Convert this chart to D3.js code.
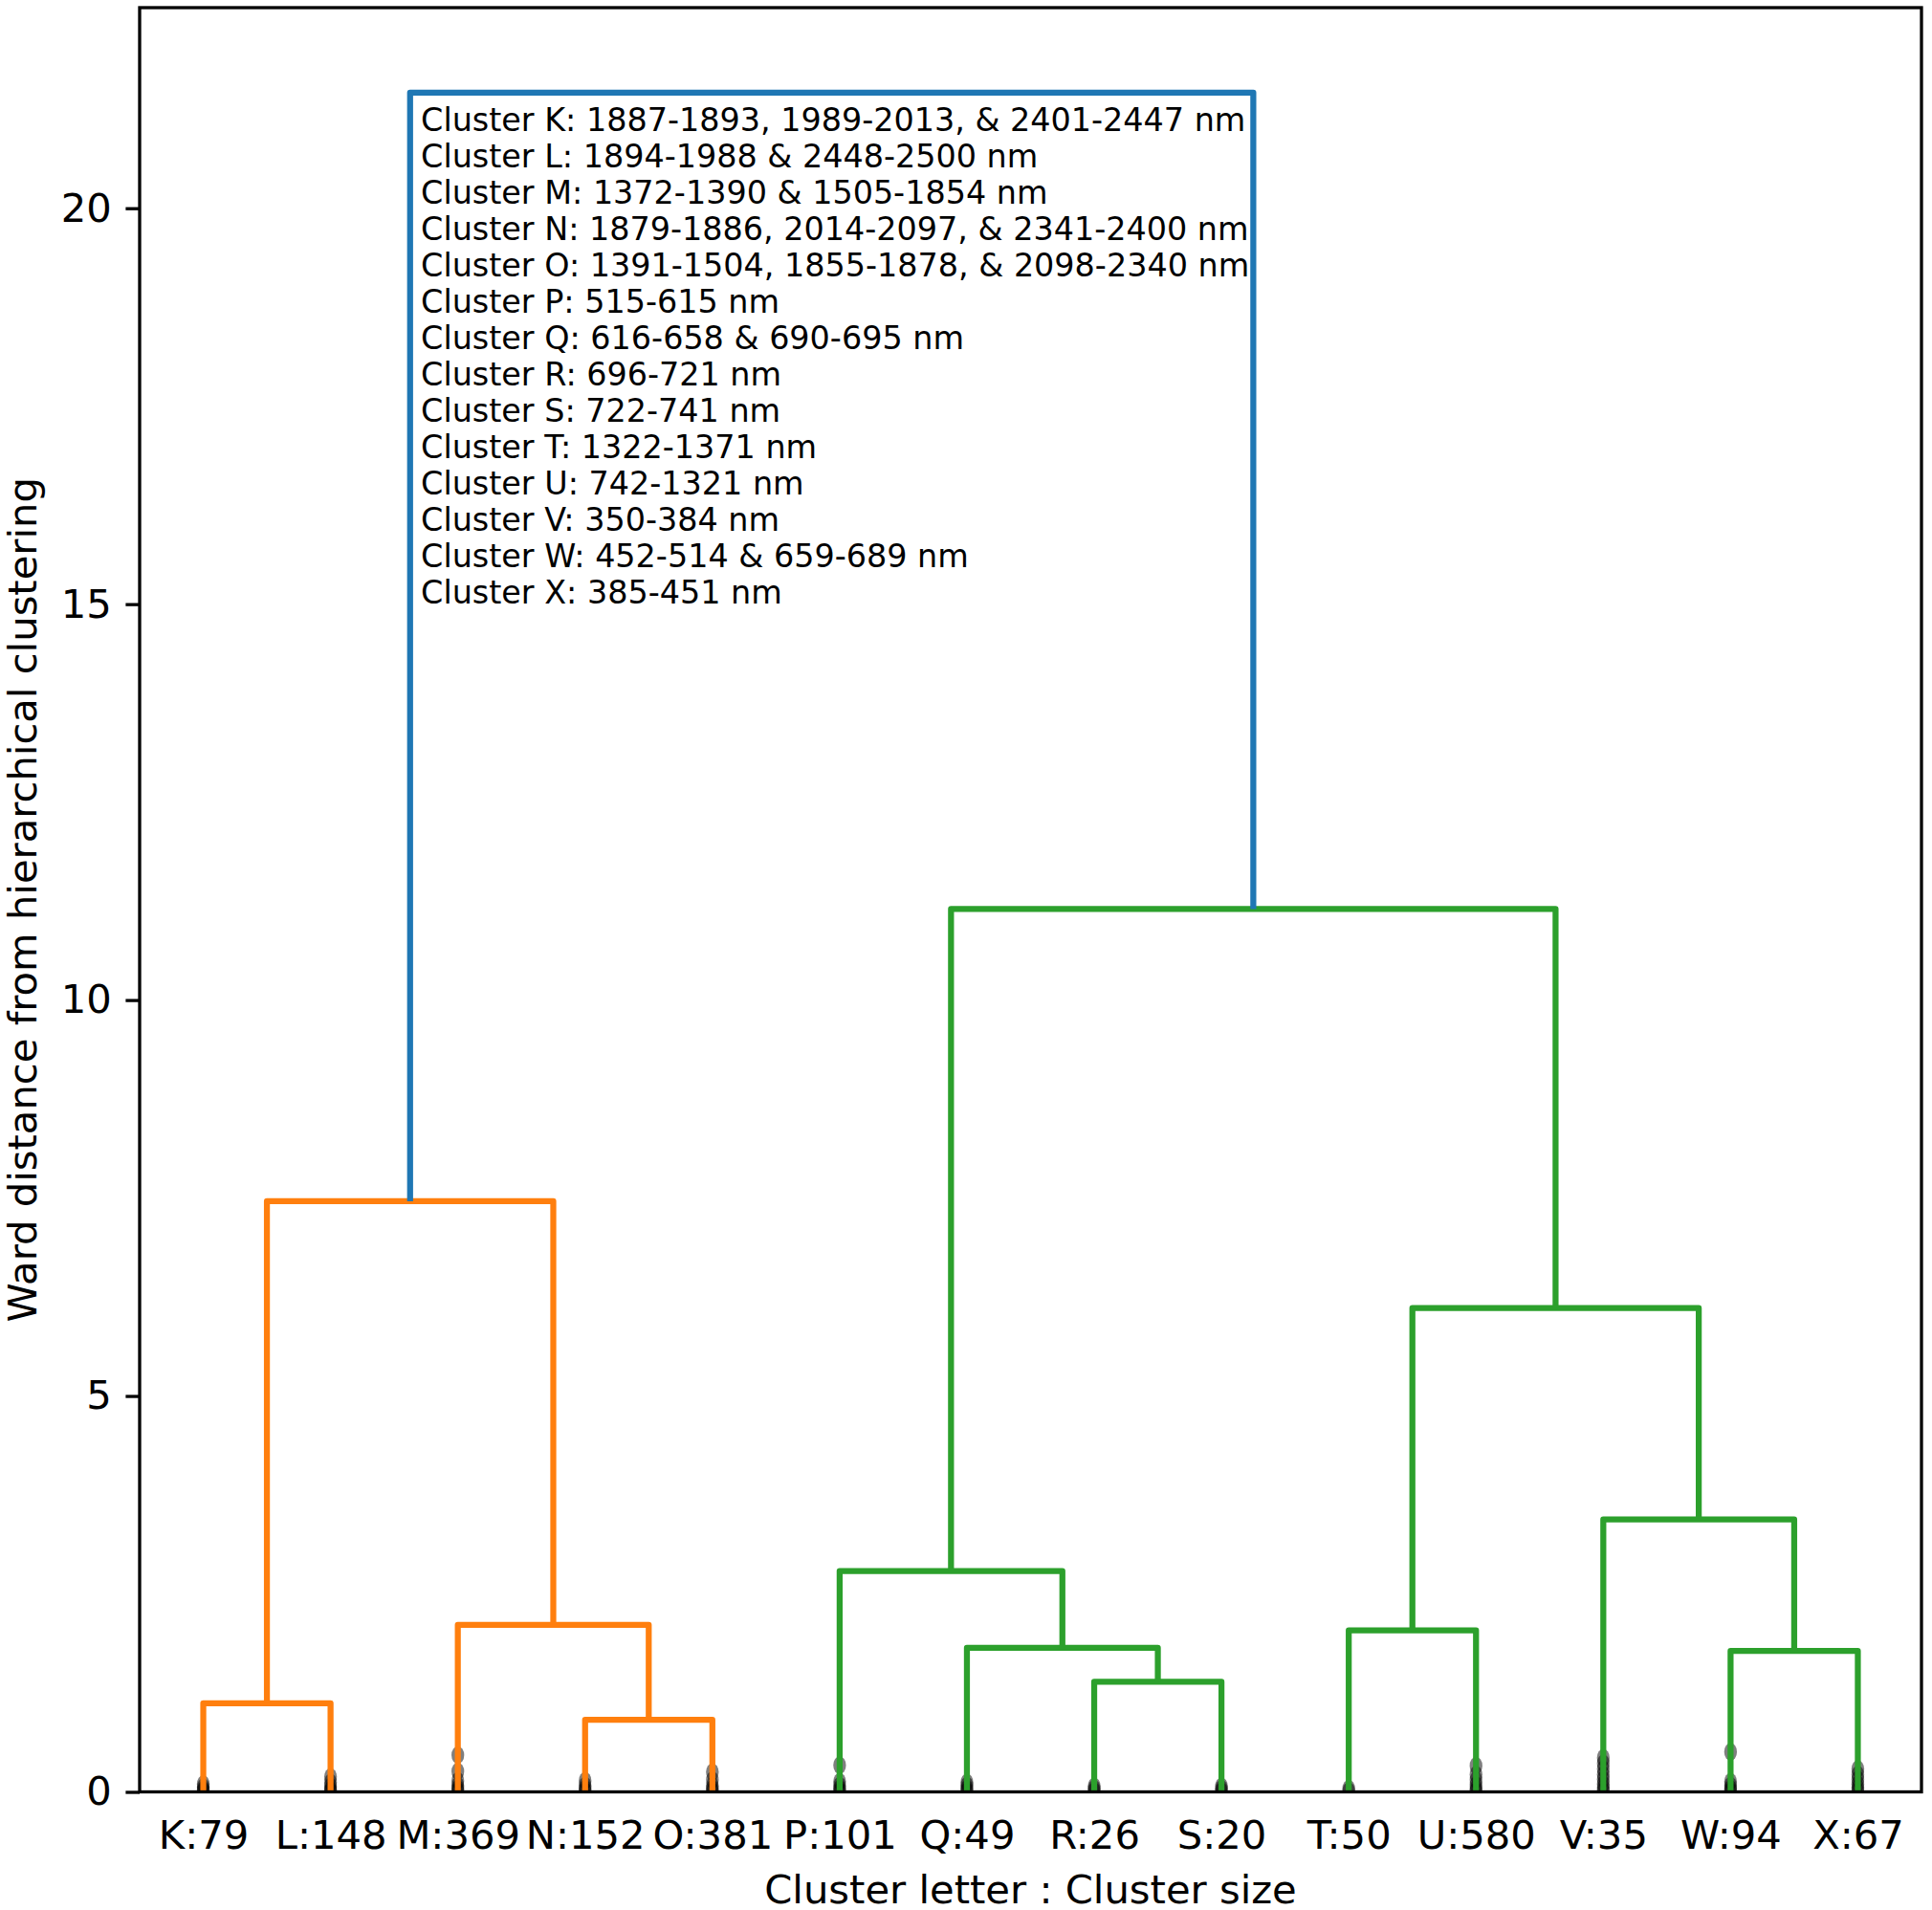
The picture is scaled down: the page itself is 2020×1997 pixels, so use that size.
<!DOCTYPE html>
<meta charset="utf-8">
<style>
body { margin: 0; background: #fff; }
svg { font-family: "DejaVu Sans", sans-serif; }
</style>
<body>
<script src="https://d3js.org/d3.v7.min.js"></script>
<script>

// leaf labels, cluster letter : cluster size
var leafLabels = ["K:79", "L:148", "M:369", "N:152", "O:381", "P:101", "Q:49",
                  "R:26", "S:20", "T:50", "U:580", "V:35", "W:94", "X:67"];

// linkage rows (ids 0-13 are leaves, each row makes id 14, 15, ...)
var mergeLeft   = [3, 0, 7, 12, 6, 9, 2, 5, 11, 19, 15, 21, 24];
var mergeRight  = [4, 1, 8, 13, 16, 10, 14, 18, 17, 22, 20, 23, 25];
var mergeHeight = [0.91, 1.12, 1.39, 1.78, 1.82, 2.04, 2.11, 2.79, 3.44, 6.11, 7.46, 11.15, 21.46];
var mergeGroup  = ["a", "a", "b", "b", "b", "b", "a", "b", "b", "b", "a", "b", "top"];

// contracted (truncated) merges inside each leaf
var markLeaf   = [0, 0, 0, 0,
                  1, 1, 1, 1, 1,
                  2, 2, 2, 2, 2, 2,
                  3, 3, 3, 3,
                  4, 4, 4, 4, 4,
                  5, 5, 5, 5, 5,
                  6, 6, 6, 6,
                  7, 7, 7,
                  8, 8, 8,
                  9, 9,
                  10, 10, 10, 10, 10, 10,
                  11, 11, 11, 11, 11, 11, 11, 11,
                  12, 12, 12, 12, 12,
                  13, 13, 13, 13, 13, 13];
var markHeight = [0.01, 0.03, 0.06, 0.10,
                  0.01, 0.03, 0.07, 0.12, 0.19,
                  0.01, 0.04, 0.08, 0.14, 0.26, 0.465,
                  0.01, 0.04, 0.08, 0.14,
                  0.01, 0.04, 0.08, 0.15, 0.25,
                  0.01, 0.04, 0.08, 0.13, 0.336,
                  0.01, 0.04, 0.08, 0.12,
                  0.01, 0.04, 0.07,
                  0.01, 0.04, 0.07,
                  0.01, 0.04,
                  0.01, 0.04, 0.09, 0.15, 0.22, 0.33,
                  0.01, 0.05, 0.10, 0.16, 0.22, 0.29, 0.36, 0.43,
                  0.01, 0.04, 0.08, 0.13, 0.505,
                  0.01, 0.05, 0.10, 0.16, 0.22, 0.29];

var clusterNotes = [
  "Cluster K: 1887-1893, 1989-2013, & 2401-2447 nm",
  "Cluster L: 1894-1988 & 2448-2500 nm",
  "Cluster M: 1372-1390 & 1505-1854 nm",
  "Cluster N: 1879-1886, 2014-2097, & 2341-2400 nm",
  "Cluster O: 1391-1504, 1855-1878, & 2098-2340 nm",
  "Cluster P: 515-615 nm",
  "Cluster Q: 616-658 & 690-695 nm",
  "Cluster R: 696-721 nm",
  "Cluster S: 722-741 nm",
  "Cluster T: 1322-1371 nm",
  "Cluster U: 742-1321 nm",
  "Cluster V: 350-384 nm",
  "Cluster W: 452-514 & 659-689 nm",
  "Cluster X: 385-451 nm"
];

var yTicks = [0, 5, 10, 15, 20];

var groupColor = { a: "#ff7f0e", b: "#2ca02c", top: "#1f77b4" };

var width = 2020, height = 1997;
var plot = { left: 146, right: 2009, top: 8, bottom: 1873.5 };

var nLeaves = leafLabels.length;
var maxH = d3.max(mergeHeight);
var dvw = maxH * 1.05;

var x = d3.scaleLinear().domain([0, nLeaves * 10]).range([plot.left, plot.right]);
var y = d3.scaleLinear().domain([0, dvw]).range([plot.bottom, plot.top]);

// node positions: leaves at 5, 15, 25 ...; merges centred over their children
var nodeX = leafLabels.map(function(d, i) { return 5 + 10 * i; });
var nodeH = leafLabels.map(function() { return 0; });
mergeLeft.forEach(function(l, i) {
  var r = mergeRight[i];
  nodeX.push((nodeX[l] + nodeX[r]) / 2);
  nodeH.push(mergeHeight[i]);
});

var svg = d3.select("body").append("svg")
  .attr("width", width)
  .attr("height", height);

svg.append("clipPath").attr("id", "plotclip")
  .append("rect")
  .attr("x", plot.left).attr("y", plot.top)
  .attr("width", plot.right - plot.left)
  .attr("height", plot.bottom - plot.top);

// contraction marks (drawn under the links, as in the original)
var rx = (x(1) - x(0)) / 2;
var ry = (y(0) - y(dvw / 100)) / 2;
svg.append("g")
  .attr("clip-path", "url(#plotclip)")
  .selectAll("ellipse")
  .data(markLeaf)
  .enter().append("ellipse")
    .attr("cx", function(d) { return x(nodeX[d]); })
    .attr("cy", function(d, i) { return y(markHeight[i]); })
    .attr("rx", rx)
    .attr("ry", ry)
    .style("fill", "#000")
    .style("fill-opacity", 0.5);

// links
svg.append("g")
  .selectAll("path")
  .data(mergeLeft)
  .enter().append("path")
    .attr("d", function(l, i) {
      var r = mergeRight[i], h = mergeHeight[i];
      return "M" + x(nodeX[l]) + "," + y(nodeH[l]) +
             "V" + y(h) +
             "H" + x(nodeX[r]) +
             "V" + y(nodeH[r]);
    })
    .style("fill", "none")
    .style("stroke", function(d, i) { return groupColor[mergeGroup[i]]; })
    .style("stroke-width", 6.25)
    .style("stroke-linejoin", "round");

// y axis
var yAxis = d3.axisLeft(y)
  .tickValues(yTicks)
  .tickSize(14.6)
  .tickPadding(14.6)
  .tickFormat(d3.format("d"));

var gy = svg.append("g")
  .attr("transform", "translate(" + plot.left + ",0)")
  .call(yAxis);
gy.select(".domain").remove();
gy.selectAll("line").attr("stroke", "#000").attr("stroke-width", 3.3);
gy.selectAll("text").style("font-size", "41.7px").style("font-family", "DejaVu Sans").attr("fill", "#000");

// x axis (tick marks hidden, labels only)
var xAxis = d3.axisBottom(x)
  .tickValues(nodeX.slice(0, nLeaves))
  .tickSize(0)
  .tickPadding(30)
  .tickFormat(function(d, i) { return leafLabels[i]; });

var gx = svg.append("g")
  .attr("transform", "translate(0," + plot.bottom + ")")
  .call(xAxis);
gx.select(".domain").remove();
gx.selectAll("text").style("font-size", "41.7px").style("font-family", "DejaVu Sans").attr("fill", "#000");

// frame
svg.append("rect")
  .attr("x", plot.left).attr("y", plot.top)
  .attr("width", plot.right - plot.left)
  .attr("height", plot.bottom - plot.top)
  .style("fill", "none")
  .style("stroke", "#000")
  .style("stroke-width", 3.3);

// axis titles
svg.append("text")
  .attr("x", (plot.left + plot.right) / 2)
  .attr("y", 1990)
  .attr("text-anchor", "middle")
  .style("font-size", "41.7px")
  .text("Cluster letter : Cluster size");

svg.append("text")
  .attr("transform", "translate(38," + (plot.top + plot.bottom) / 2 + ") rotate(-90)")
  .attr("text-anchor", "middle")
  .style("font-size", "41.7px")
  .text("Ward distance from hierarchical clustering");

// cluster wavelength notes
svg.append("g")
  .selectAll("text")
  .data(clusterNotes)
  .enter().append("text")
    .attr("x", x(22.1))
    .attr("y", function(d, i) { return y(20.98) + i * 38.05; })
    .style("font-size", "33.4px")
    .text(function(d) { return d; });

</script>
